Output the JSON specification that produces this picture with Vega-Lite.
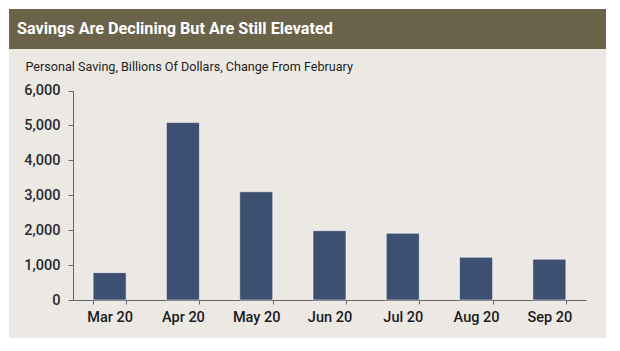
{
  "$schema": "https://vega.github.io/schema/vega-lite/v6.json",
  "background": "white",
  "padding": {"left": 9, "top": 9, "right": 14, "bottom": 13},
  "spacing": 0,
  "vconcat": [
    {
      "width": 597,
      "height": 40,
      "view": {"fill": "#6b6349", "stroke": null},
      "data": {"values": [{"t": "Savings Are Declining But Are Still Elevated", "p": 0}]},
      "mark": {"type": "text", "align": "left", "baseline": "middle", "dx": 8, "font": "Roboto", "fontSize": 16.2, "fontWeight": "bold", "color": "#ffffff"},
      "encoding": {
        "x": {"field": "p", "type": "quantitative", "scale": {"domain": [0, 1]}, "axis": null},
        "text": {"field": "t"}
      }
    },
    {
      "width": 597,
      "height": 289,
      "view": {"fill": "#ece9e4", "stroke": null},
      "data": {"values": [
        {"month": "Mar 20", "saving": 783},
        {"month": "Apr 20", "saving": 5080},
        {"month": "May 20", "saving": 3100},
        {"month": "Jun 20", "saving": 1985},
        {"month": "Jul 20", "saving": 1910},
        {"month": "Aug 20", "saving": 1222},
        {"month": "Sep 20", "saving": 1167}
      ]},
      "mark": {"type": "bar", "color": "#3d5071", "stroke": "#ffffff", "strokeOpacity": 0.5, "strokeWidth": 1},
      "encoding": {
        "x": {
          "field": "month", "type": "nominal", "sort": null,
          "scale": {"range": [64, 577], "paddingInner": 0.55, "paddingOuter": 0.275},
          "axis": {"title": null, "offset": -38, "labelAngle": 0, "tickBand": "extent", "tickSize": 4, "tickColor": "#666666", "domainColor": "#666666", "labelPadding": 6, "labelFont": "Roboto", "labelFontWeight": 500, "labelFontSize": 14.5, "labelColor": "#1a1a22"}
        },
        "y": {
          "field": "saving", "type": "quantitative",
          "scale": {"domain": [0, 6000], "range": [251, 41.5], "nice": false},
          "axis": {
            "title": "Personal Saving, Billions Of Dollars, Change From February",
            "titleAngle": 0, "titleAlign": "left", "titleBaseline": "middle", "titleX": -48, "titleY": 17,
            "titleFont": "Roboto", "titleFontSize": 12.6, "titleFontWeight": "normal", "titleColor": "#1e1e1e",
            "offset": -64, "grid": false, "values": [0, 1000, 2000, 3000, 4000, 5000, 6000], "format": ",d", "tickSize": 5, "tickColor": "#666666", "domainColor": "#666666", "labelPadding": 8, "labelFont": "Roboto", "labelFontWeight": 500, "labelFontSize": 14.5, "labelColor": "#2a2a2a"}
        }
      }
    }
  ],
  "config": {"view": {"stroke": null}, "axis": {"domainWidth": 1, "tickWidth": 1}}
}
